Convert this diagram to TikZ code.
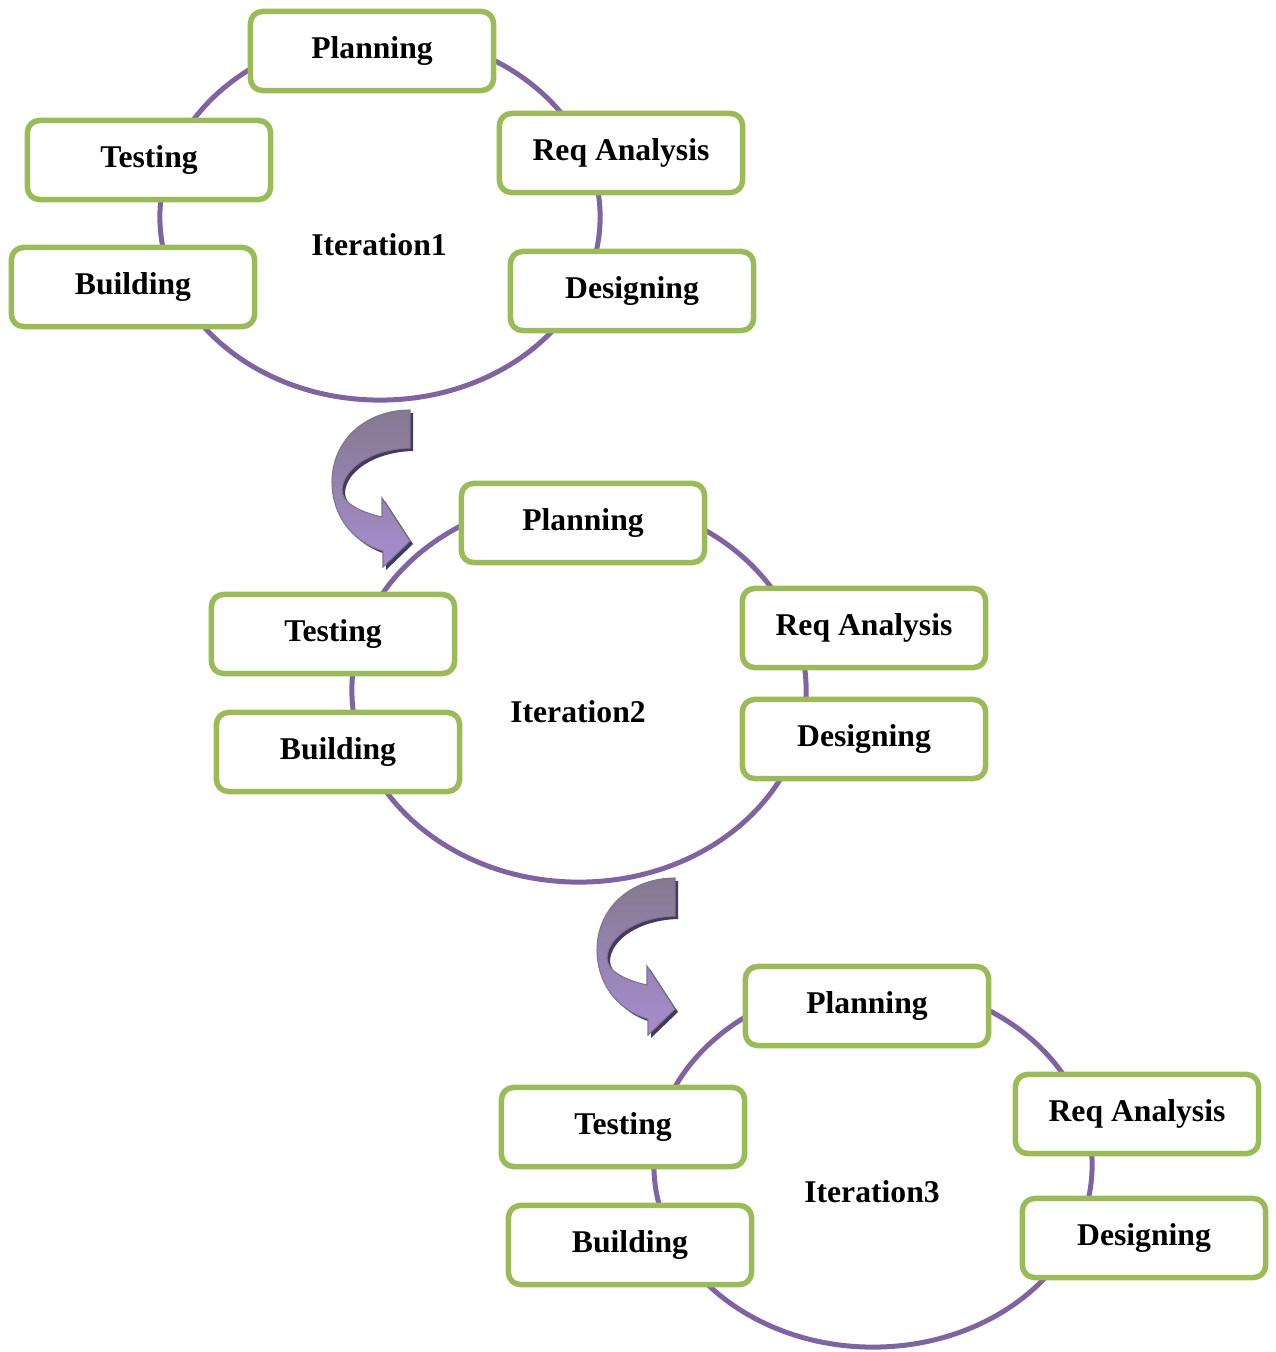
\documentclass[tikz,border=0pt]{standalone}
\usepackage{fontspec}
\setmainfont{Liberation Serif}
\usepackage{xcolor}
\definecolor{cyclepurple}{HTML}{8064A2}
\definecolor{boxgreen}{HTML}{9BBB59}
\definecolor{curltop}{HTML}{85798F}
\definecolor{curlbot}{HTML}{A68DD0}
\definecolor{curlshadow}{HTML}{47385E}
\tikzset{
  phase/.style={draw=boxgreen,line width=0.055cm,rounded corners=0.12cm,fill=white,
    minimum width=2.43cm,minimum height=0.79cm,font=\fontsize{9}{11}\selectfont\bfseries},
  cyc/.style={draw=cyclepurple,line width=0.05cm},
  iterlbl/.style={font=\fontsize{9}{11}\selectfont\bfseries},
  curlshade/.style={fill=curlshadow},
  curlbody/.style={top color=curltop,bottom color=curlbot,draw=curlshadow!70,line width=0.3pt},
}

\begin{document}
\begin{tikzpicture}[x=0.01cm,y=-0.01cm]
  \useasboundingbox (0,0) rectangle (1275,1352);

  % the three cycles
  \draw[cyc] (380,217) ellipse [x radius=2.2cm,y radius=1.83cm];
  \draw[cyc] (579,690) ellipse [x radius=2.27cm,y radius=1.92cm];
  \draw[cyc] (873,1165) ellipse [x radius=2.19cm,y radius=1.82cm];

  % iteration 1
  \node[phase] (plan1) at (372,51)  {Planning};
  \node[phase] (test1) at (149,160) {Testing};
  \node[phase] (req1)  at (621,153) {Req Analysis};
  \node[phase] (build1) at (133,287) {Building};
  \node[phase] (des1)  at (632,291) {Designing};
  \node[iterlbl] (it1) at (379,245) {Iteration1};

  % iteration 2
  \node[phase] (plan2) at (583,523) {Planning};
  \node[phase] (test2) at (333,634) {Testing};
  \node[phase] (req2)  at (864,628) {Req Analysis};
  \node[phase] (build2) at (338,752) {Building};
  \node[phase] (des2)  at (864,739) {Designing};
  \node[iterlbl] (it2) at (578,712) {Iteration2};

  % iteration 3
  \node[phase] (plan3) at (867,1006) {Planning};
  \node[phase] (test3) at (623,1127) {Testing};
  \node[phase] (req3)  at (1137,1114) {Req Analysis};
  \node[phase] (build3) at (630,1245) {Building};
  \node[phase] (des3)  at (1144,1238) {Designing};
  \node[iterlbl] (it3) at (872,1192) {Iteration3};

  % curled arrows between iterations
  \foreach \dx/\dy in {0/0,265/468}{
    \foreach \o/\st in {3/curlshade,0/curlbody}{
      \path[\st,shift={(\dx+\o,\dy+\o)}] (410,410) -- (410,448)
        .. controls (372,449) and (343,468) .. (342,490)
        .. controls (342,503) and (360,512) .. (382,517)
        -- (382,498) -- (410,541) -- (383,567) -- (383,551)
        .. controls (352,542) and (332,515) .. (332,482)
        .. controls (332,440) and (366,410) .. (410,410) -- cycle;
    }
  }
\end{tikzpicture}
\end{document}
